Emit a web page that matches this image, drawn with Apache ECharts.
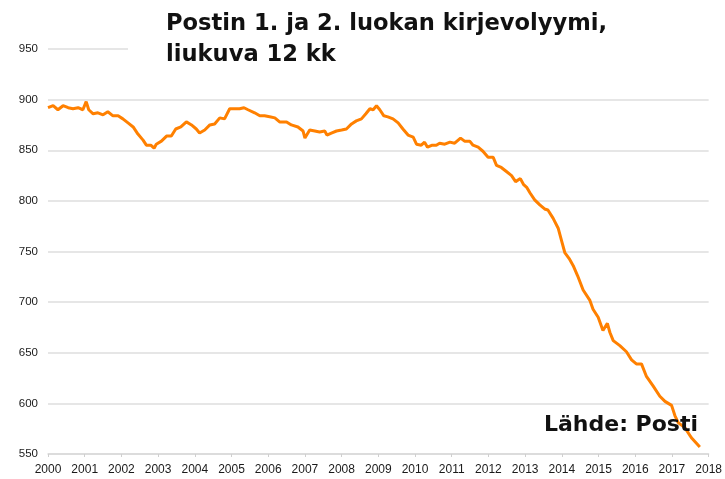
<!DOCTYPE html>
<html>
<head>
<meta charset="utf-8">
<script src="https://cdn.jsdelivr.net/npm/echarts@6/dist/echarts.min.js"></script>
<style>
  html, body { margin: 0; padding: 0; background: #fff; }
  #chart { width: 725px; height: 479px; }
</style>
</head>
<body>
<div id="chart"></div>
<script>
// otsikko ja lähde
var titleText = 'Postin 1. ja 2. luokan kirjevolyymi,\nliukuva 12 kk'
var sourceText = 'Lähde: Posti'

// akselit
var yTicks = [550, 600, 650, 700, 750, 800, 850, 900, 950]
var yearTicks = [2000, 2018]

// aika (vuosi desimaalina) ja volyymi, luettu kuvasta
var years = [
  2000.00, 2000.14, 2000.27, 2000.41, 2000.55, 2000.68, 2000.82, 2000.95,
  2001.04, 2001.11, 2001.23, 2001.36, 2001.50, 2001.63, 2001.77, 2001.91,
  2002.04, 2002.18, 2002.32, 2002.45, 2002.59, 2002.68, 2002.80, 2002.89, 2002.95,
  2003.09, 2003.23, 2003.36, 2003.48, 2003.62, 2003.77, 2003.91,
  2004.04, 2004.13, 2004.27, 2004.41, 2004.54, 2004.68, 2004.81, 2004.95,
  2005.09, 2005.22, 2005.34, 2005.45, 2005.63, 2005.77, 2005.90,
  2006.04, 2006.18, 2006.31, 2006.50, 2006.63, 2006.81, 2006.95,
  2007.00, 2007.13, 2007.27, 2007.40, 2007.54, 2007.60, 2007.72, 2007.86,
  2008.00, 2008.13, 2008.27, 2008.40, 2008.54, 2008.66, 2008.77, 2008.86, 2008.95,
  2009.04, 2009.15, 2009.26, 2009.40, 2009.54, 2009.67, 2009.81, 2009.95,
  2010.04, 2010.17, 2010.26, 2010.34, 2010.47, 2010.58, 2010.67, 2010.81, 2010.95,
  2011.08, 2011.24, 2011.35, 2011.49, 2011.58, 2011.72, 2011.85, 2011.99,
  2012.13, 2012.22, 2012.35, 2012.49, 2012.63, 2012.74, 2012.87, 2012.96,
  2013.05, 2013.13, 2013.26, 2013.40, 2013.53, 2013.62, 2013.76, 2013.90, 2013.99,
  2014.08, 2014.20, 2014.31, 2014.43, 2014.58, 2014.76, 2014.85, 2014.99,
  2015.12, 2015.24, 2015.31, 2015.40, 2015.58, 2015.76, 2015.90,
  2016.03, 2016.17, 2016.30, 2016.49, 2016.67, 2016.81, 2016.99,
  2017.08, 2017.17, 2017.35, 2017.53, 2017.76
]
var volume = [
  892, 894, 890, 894, 892, 891, 892, 890,
  898, 890, 886, 887, 885, 888, 884, 884,
  881, 877, 873, 866, 860, 855, 855, 852, 856,
  859, 864, 864, 871, 873, 878, 875,
  871, 867, 870, 875, 876, 882, 881, 891,
  891, 891, 892, 890, 887, 884, 884,
  883, 882, 878, 878, 875, 873, 869,
  862, 870, 869, 868, 869, 865, 867, 869,
  870, 871, 876, 879, 881, 886, 891, 890, 894,
  890, 884, 883, 881, 877, 871, 865, 863,
  856, 855, 858, 853, 855, 855, 857, 856, 858,
  857, 862, 859, 859, 855, 853, 849, 843,
  843, 835, 833, 829, 825, 819, 822, 816,
  813, 808, 801, 796, 792, 791, 783, 773, 761,
  749, 743, 736, 726, 712, 702, 693, 685,
  672, 679, 670, 662, 657, 651, 643,
  639, 639, 627, 617, 607, 602, 598,
  588, 581, 576, 566, 557
]

var chart = echarts.init(document.getElementById('chart'))

var option = {
  animation: false,
  backgroundColor: '#fff',
  title: {
    text: titleText,
    left: 166,
    top: 9,
    padding: 0,
    z: 8,
    textStyle: {
      fontFamily: 'DejaVu Sans',
      fontWeight: 'bold',
      fontSize: 22.6,
      lineHeight: 31,
      color: '#111'
    }
  },
  grid: { left: 48, right: 16, top: 49, bottom: 25 },
  xAxis: {
    type: 'value',
    min: yearTicks[0],
    max: yearTicks[1],
    interval: 1,
    axisLine: { show: true, lineStyle: { color: '#d9d9d9', width: 1.5 } },
    axisTick: { show: true, length: 3, lineStyle: { color: '#cfcfcf' } },
    splitLine: { show: false },
    axisLabel: {
      margin: 10,
      color: '#1a1a1a',
      fontFamily: 'Liberation Sans',
      fontSize: 12,
      formatter: function (v) { return String(v) }
    }
  },
  yAxis: {
    type: 'value',
    min: yTicks[0],
    max: yTicks[yTicks.length - 1],
    interval: 50,
    axisLine: { show: false },
    axisTick: { show: false },
    splitLine: { lineStyle: { color: '#dedede', width: 1.5 } },
    axisLabel: {
      margin: 10,
      color: '#1a1a1a',
      fontFamily: 'Liberation Sans',
      fontSize: 11.5
    }
  },
  graphic: [
    // valkoinen tausta otsikon alle
    {
      type: 'rect',
      z: 5,
      shape: { x: 128, y: 0, width: 597, height: 75 },
      style: { fill: '#fff' }
    },
    {
      type: 'text',
      z: 20,
      style: {
        text: sourceText,
        x: 698,
        y: 425,
        textAlign: 'right',
        textVerticalAlign: 'middle',
        font: 'bold 22px "DejaVu Sans"',
        fill: '#111'
      }
    }
  ],
  series: [
    {
      type: 'line',
      data: years.map(function (y, i) { return [y, volume[i]] }),
      showSymbol: false,
      lineStyle: { color: '#ff8000', width: 3 },
      z: 3
    }
  ]
}

chart.setOption(option)
</script>
</body>
</html>
